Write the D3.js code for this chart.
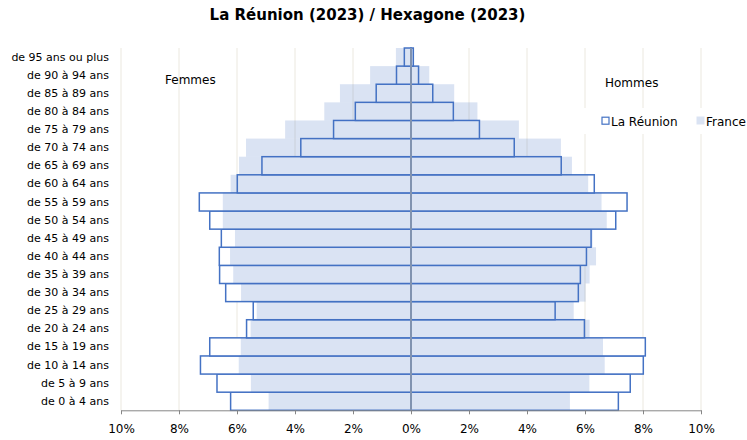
<!DOCTYPE html>
<html>
<head>
<meta charset="utf-8">
<script src="https://cdn.jsdelivr.net/npm/d3@7"></script>
<style>
  body { margin: 0; background: #fff; }
  text { font-family: "DejaVu Sans", Verdana, sans-serif; }
</style>
</head>
<body>
<div id="chart"></div>
<script>
// age groups, youngest first
let ages = ["de 0 à 4 ans", "de 5 à 9 ans", "de 10 à 14 ans", "de 15 à 19 ans", "de 20 à 24 ans",
    "de 25 à 29 ans", "de 30 à 34 ans", "de 35 à 39 ans", "de 40 à 44 ans", "de 45 à 49 ans",
    "de 50 à 54 ans", "de 55 à 59 ans", "de 60 à 64 ans", "de 65 à 69 ans", "de 70 à 74 ans",
    "de 75 à 79 ans", "de 80 à 84 ans", "de 85 à 89 ans", "de 90 à 94 ans", "de 95 ans ou plus"];

// shares in % of population
let reunionFemmes = [6.22, 6.69, 7.26, 6.94, 5.67, 5.44, 6.39, 6.60, 6.61, 6.54,
    6.94, 7.30, 5.99, 5.14, 3.80, 2.67, 1.92, 1.20, 0.50, 0.23];
let reunionHommes = [7.15, 7.56, 8.01, 8.08, 5.98, 4.97, 5.77, 5.84, 6.05, 6.21,
    7.06, 7.45, 6.32, 5.18, 3.56, 2.36, 1.46, 0.75, 0.26, 0.08];
let franceFemmes = [4.91, 5.52, 5.94, 5.87, 5.53, 5.32, 5.86, 6.13, 6.24, 6.07,
    6.49, 6.49, 6.22, 5.93, 5.69, 4.34, 2.99, 2.45, 1.41, 0.52];
let franceHommes = [5.48, 6.15, 6.68, 6.62, 6.16, 5.61, 6.02, 6.16, 6.38, 6.26,
    6.75, 6.57, 6.11, 5.55, 5.17, 3.72, 2.29, 1.49, 0.63, 0.10];

let xTicks = [-10, -8, -6, -4, -2, 0, 2, 4, 6, 8, 10];

let w = 747, h = 440;
let blue = "#4472c4";

let svg = d3.select("#chart").append("svg")
    .attr("width", w)
    .attr("height", h);

let x = d3.scaleLinear().domain([-10, 10]).range([121, 701]);
let y = d3.scaleBand().domain(ages.slice().reverse()).range([48, 410.3]).padding(0);

// gridlines
svg.append("g")
    .selectAll("line")
    .data(xTicks)
  .enter().append("line")
    .attr("x1", d => x(d)).attr("x2", d => x(d))
    .attr("y1", 48).attr("y2", 410.3)
    .attr("stroke", "#ebe8df")
    .attr("stroke-width", 1);

// build rows: negative = femmes
let reunion = [], france = [];
ages.forEach(function(a, i) {
    reunion.push({age: a, v: -reunionFemmes[i]});
    reunion.push({age: a, v: reunionHommes[i]});
    france.push({age: a, v: -franceFemmes[i]});
    france.push({age: a, v: franceHommes[i]});
});

svg.append("g")
    .selectAll("rect")
    .data(reunion)
  .enter().append("rect")
    .attr("x", d => Math.min(x(0), x(d.v)))
    .attr("y", d => y(d.age))
    .attr("width", d => Math.abs(x(d.v) - x(0)))
    .attr("height", y.bandwidth())
    .attr("fill", "#fff")
    .attr("stroke", blue)
    .attr("stroke-width", 1.5);

svg.append("g")
    .selectAll("rect")
    .data(france)
  .enter().append("rect")
    .attr("x", d => Math.min(x(0), x(d.v)))
    .attr("y", d => y(d.age))
    .attr("width", d => Math.abs(x(d.v) - x(0)))
    .attr("height", y.bandwidth())
    .attr("fill", blue)
    .attr("fill-opacity", 0.2);

// centre axis
svg.append("line")
    .attr("x1", x(0)).attr("x2", x(0))
    .attr("y1", 48).attr("y2", 410.3)
    .attr("stroke", "#8193b0")
    .attr("stroke-width", 2);

// bottom axis
let xAxis = svg.append("g")
    .attr("transform", "translate(0,410.3)")
    .call(d3.axisBottom(x).tickValues(xTicks)
        .tickFormat(d => Math.abs(d) + "%")
        .tickSize(4).tickSizeOuter(0).tickPadding(10));
xAxis.select(".domain").attr("stroke", "#868686");
xAxis.selectAll(".tick line").attr("stroke", "#868686");
xAxis.selectAll("text")
    .attr("font-family", "DejaVu Sans")
    .attr("font-size", 12)
    .attr("fill", "#000");

// category labels
let yAxis = svg.append("g")
    .attr("transform", "translate(121,0)")
    .call(d3.axisLeft(y).tickSize(0).tickPadding(12));
yAxis.select(".domain").remove();
yAxis.selectAll("text")
    .attr("font-family", "DejaVu Sans")
    .attr("font-size", 11)
    .attr("fill", "#000");

// title
svg.append("text")
    .attr("x", 367.5)
    .attr("y", 19.5)
    .attr("text-anchor", "middle")
    .attr("font-size", 15)
    .attr("font-weight", "bold")
    .text("La Réunion (2023) / Hexagone (2023)");

svg.append("text")
    .attr("x", 165).attr("y", 84)
    .attr("font-size", 12)
    .text("Femmes");
svg.append("text")
    .attr("x", 605).attr("y", 87)
    .attr("font-size", 12)
    .text("Hommes");

// legend
let legend = svg.append("g");
legend.append("rect")
    .attr("x", 583).attr("y", 108)
    .attr("width", w - 583).attr("height", 26)
    .attr("fill", "#fff");
legend.append("rect")
    .attr("x", 602).attr("y", 117.2)
    .attr("width", 7).attr("height", 7)
    .attr("fill", "#fff")
    .attr("stroke", blue)
    .attr("stroke-width", 1.2);
legend.append("text")
    .attr("x", 611).attr("y", 125.5)
    .attr("font-size", 12)
    .text("La Réunion");
legend.append("rect")
    .attr("x", 696.5).attr("y", 116.5)
    .attr("width", 8).attr("height", 8)
    .attr("fill", blue)
    .attr("fill-opacity", 0.2);
legend.append("text")
    .attr("x", 706).attr("y", 125.5)
    .attr("font-size", 12)
    .text("France");
</script>
</body>
</html>
